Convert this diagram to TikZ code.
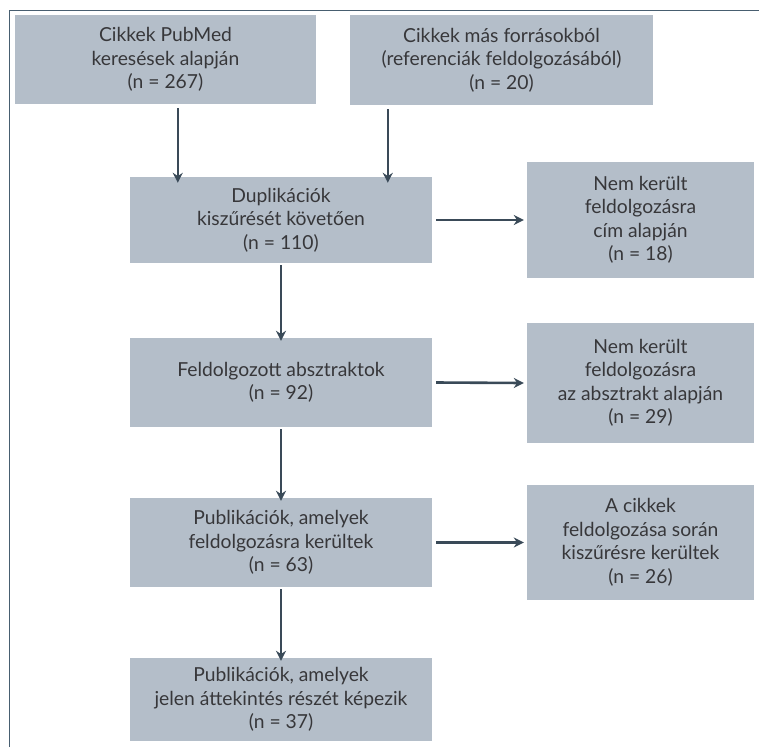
\documentclass[tikz,border=0pt]{standalone}
\usepackage{fontspec}
\setmainfont{Lato}
\usetikzlibrary{arrows.meta}
\definecolor{boxfill}{RGB}{180,190,201}
\definecolor{txt}{RGB}{55,55,58}
\definecolor{arrcol}{RGB}{58,74,88}
\definecolor{framecol}{RGB}{72,94,112}
\begin{document}
\begin{tikzpicture}[x=1pt,y=-1pt,
  box/.style={fill=boxfill, draw=none, inner sep=0pt, align=center, text=txt,
    font=\fontsize{19.3}{23.5}\selectfont},
  arr/.style={arrcol, line width=2.6pt, -{Stealth[length=10pt,width=10pt]}}]
\useasboundingbox (0,0) rectangle (759,747);
\fill[white] (0,0) rectangle (759,747);
\draw[framecol, line width=1.6pt] (9.5,747) -- (9.5,10.5) -- (759,10.5);
% left column
\node[box, minimum width=301pt, minimum height=89pt] (b1) at (165.5,59.5)
  {Cikkek PubMed\\keresések alapján\\(n = 267)};
\node[box, minimum width=303pt, minimum height=90pt] (b2) at (501.5,60)
  {Cikkek más forrásokból\\(referenciák feldolgozásából)\\(n = 20)};
\node[box, minimum width=302pt, minimum height=86pt] (b3) at (281,220)
  {Duplikációk\\kiszűrését követően\\(n = 110)};
\node[box, minimum width=302pt, minimum height=89pt] (b4) at (281,382.5)
  {Feldolgozott absztraktok\\(n = 92)};
\node[box, minimum width=302pt, minimum height=89pt] (b8) at (281,542.5)
  {Publikációk, amelyek\\feldolgozásra kerültek\\(n = 63)};
\node[box, minimum width=302pt, minimum height=83pt] (b9) at (281,699.5)
  {Publikációk, amelyek\\jelen áttekintés részét képezik\\(n = 37)};
% right column
\node[box, minimum width=227pt, minimum height=116pt] (b5) at (640.5,220)
  {Nem került\\feldolgozásra\\cím alapján\\(n = 18)};
\node[box, minimum width=227pt, minimum height=120pt] (b6) at (640.5,383)
  {Nem került\\feldolgozásra\\az absztrakt alapján\\(n = 29)};
\node[box, minimum width=227pt, minimum height=115pt] (b7) at (640.5,542.5)
  {A cikkek\\feldolgozása során\\kiszűrésre kerültek\\(n = 26)};
% arrows
\draw[arr] ([xshift=163pt,yshift=-4pt]b1.south west) -- ([xshift=163pt,yshift=-6pt]b1.south west |- b3.north);
\draw[arr] ([xshift=38pt,yshift=-4pt]b2.south west) -- ([xshift=38pt,yshift=-6pt]b2.south west |- b3.north);
\draw[arr] ([yshift=-2pt]b3.south) -- ([yshift=-3pt]b4.north);
\draw[arr] ([yshift=-2pt]b4.south) -- ([yshift=-3pt]b8.north);
\draw[arr] ([yshift=-2pt]b8.south) -- ([yshift=-3pt]b9.north);
\draw[arr] ([xshift=4pt]b3.east) -- ([xshift=-3pt]b5.west);
\draw[arr] ([xshift=4pt]b4.east) -- ([xshift=-3pt]b6.west);
\draw[arr] ([xshift=4pt]b8.east) -- ([xshift=-3pt]b7.west);
\end{tikzpicture}
\end{document}
